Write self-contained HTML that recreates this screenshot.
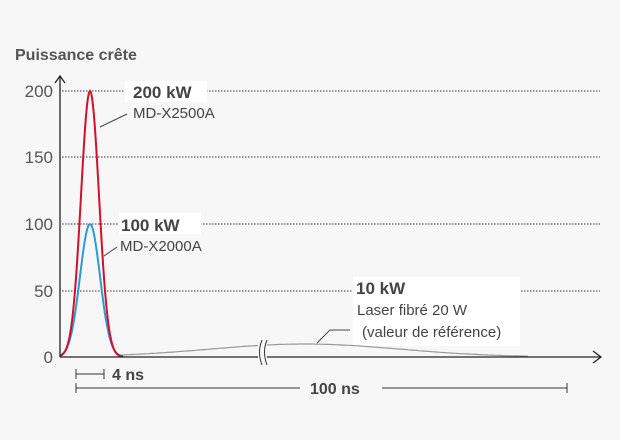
<!DOCTYPE html>
<html><head><meta charset="utf-8"><style>
body{margin:0;background:#f7f7f7;}
svg{display:block;font-family:"Liberation Sans",sans-serif;}
</style></head><body>
<svg id="s" width="620" height="440" viewBox="0 0 620 440">
<rect width="620" height="440" fill="#f7f7f7"/>
<text x="15" y="60" font-size="16" font-weight="bold" fill="#555">Puissance crête</text>
<g font-size="17" fill="#555" text-anchor="end">
<text x="53" y="97">200</text><text x="53" y="163">150</text><text x="53" y="230">100</text><text x="53" y="297">50</text><text x="53" y="363">0</text>
</g>
<g stroke="#333" stroke-width="1" stroke-dasharray="1.5,1.5">
<line x1="62" y1="91" x2="600" y2="91"/><line x1="62" y1="157" x2="600" y2="157"/><line x1="62" y1="224" x2="600" y2="224"/><line x1="62" y1="291" x2="600" y2="291"/>
</g>
<rect x="125" y="81" width="82" height="21" fill="#fff"/>
<rect x="119" y="213" width="82" height="21" fill="#fff"/>
<rect x="353" y="277" width="167" height="69" fill="#fff"/>
<text x="133" y="98" font-size="17" font-weight="bold" fill="#444">200 kW</text>
<text x="133" y="118" font-size="15" fill="#444">MD-X2500A</text>
<text x="121" y="231" font-size="17" font-weight="bold" fill="#444">100 kW</text>
<text x="120" y="251" font-size="15" fill="#444">MD-X2000A</text>
<text x="356" y="294" font-size="17" font-weight="bold" fill="#444">10 kW</text>
<text x="357" y="315" font-size="15" fill="#444">Laser fibré 20 W</text>
<text x="362" y="337" font-size="15" fill="#444">(valeur de référence)</text>
<g stroke="#444" stroke-width="1" fill="none">
<line x1="100" y1="127" x2="127" y2="114"/>
<line x1="104" y1="256" x2="117" y2="247"/>
<polyline points="317,343 330,330 350,330"/>
</g>
<path id="g" fill="none" stroke="#999" stroke-width="1.2"/>
<path id="b" fill="none" stroke="#2a9bd6" stroke-width="2"/>
<path id="r" fill="none" stroke="#d40f2a" stroke-width="2"/>
<g stroke="#222" stroke-width="1.3" fill="none">
<line x1="60" y1="76" x2="60" y2="357"/><polyline points="55,83 60,76 65,83"/>
<line x1="60" y1="357" x2="600" y2="357"/><polyline points="593,351 601,357 593,363"/>
</g>
<rect x="258" y="340" width="9" height="25" fill="#f7f7f7"/>
<g stroke="#333" stroke-width="1" fill="none">
<path d="M262,340 q-5,12 0,25"/><path d="M267,340 q-5,12 0,25"/>
</g>
<g stroke="#333" stroke-width="1">
<line x1="76" y1="374" x2="104" y2="374"/><line x1="76" y1="369" x2="76" y2="379"/><line x1="104" y1="369" x2="104" y2="379"/>
<line x1="76" y1="388" x2="300" y2="388"/><line x1="382" y1="388" x2="567" y2="388"/><line x1="76" y1="383" x2="76" y2="393"/><line x1="567" y1="383" x2="567" y2="393"/>
</g>
<text x="112" y="380" font-size="16" font-weight="bold" fill="#444">4 ns</text>
<text x="310" y="394" font-size="16" font-weight="bold" fill="#444">100 ns</text>
</svg>
<script>
function gp(A,s){let d="";for(let x=60;x<=123;x+=1){let y=357-A*Math.exp(-Math.pow(x-90,2)/(2*s*s));d+=(x==60?"M":"L")+x+","+y.toFixed(1)+" ";}return d;}
document.getElementById('r').setAttribute('d',gp(266,9));
document.getElementById('b').setAttribute('d',gp(133,10));
let d="";for(let x=120;x<=530;x+=4){let y=357-13*Math.exp(-Math.pow(x-305,2)/(2*95*95));d+=(x==120?"M":"L")+x+","+y.toFixed(1)+" ";}
document.getElementById('g').setAttribute('d',d);
</script>
</body></html>
